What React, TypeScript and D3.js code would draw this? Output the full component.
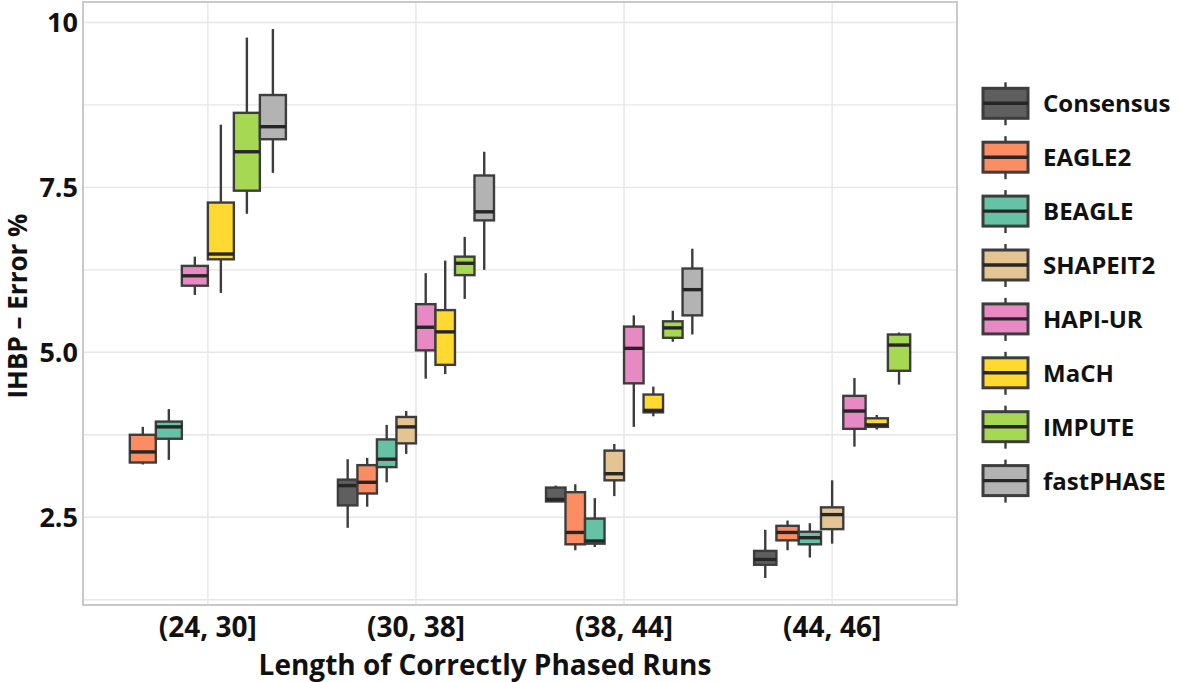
import React from 'react';
import * as d3 from 'd3';

const categories = ['(24, 30]', '(30, 38]', '(38, 44]', '(44, 46]'];
const seriesNames = ['Consensus', 'EAGLE2', 'BEAGLE', 'SHAPEIT2', 'HAPI-UR', 'MaCH', 'IMPUTE', 'fastPHASE'];
const seriesColors = ['#5f5f5f', '#fc8d62', '#66c2a5', '#e5c494', '#e78ac3', '#ffd92f', '#a6d854', '#b3b3b3'];

// per category: [lower whisker, Q1, median, Q3, upper whisker]
type Stat = number[] | null;
const consensus: Stat[] = [null, [2.34, 2.68, 2.98, 3.07, 3.38], [2.73, 2.74, 2.77, 2.95, 2.98], [1.58, 1.78, 1.86, 1.99, 2.31]];
const eagle2: Stat[] = [[3.30, 3.33, 3.49, 3.75, 3.87], [2.66, 2.86, 3.03, 3.29, 3.40], [2.00, 2.09, 2.27, 2.88, 3.00], [2.00, 2.15, 2.27, 2.37, 2.45]];
const beagle: Stat[] = [[3.37, 3.69, 3.87, 3.95, 4.14], [3.03, 3.26, 3.38, 3.68, 3.90], [2.05, 2.10, 2.14, 2.48, 2.79], [1.89, 2.09, 2.19, 2.28, 2.41]];
const shapeit2: Stat[] = [null, [3.46, 3.62, 3.87, 4.02, 4.11], [2.82, 3.06, 3.16, 3.51, 3.61], [2.10, 2.32, 2.54, 2.65, 3.06]];
const hapiur: Stat[] = [[5.87, 6.01, 6.16, 6.31, 6.45], [4.60, 5.03, 5.38, 5.73, 6.20], [3.87, 4.53, 5.06, 5.39, 5.56], [3.57, 3.84, 4.11, 4.34, 4.61]];
const mach: Stat[] = [[5.90, 6.41, 6.49, 7.27, 8.45], [4.67, 4.81, 5.31, 5.64, 6.39], [4.03, 4.09, 4.12, 4.36, 4.48], [3.83, 3.87, 3.90, 4.00, 4.05]];
const impute: Stat[] = [[7.10, 7.45, 8.04, 8.63, 9.77], [5.81, 6.17, 6.35, 6.45, 6.75], [5.16, 5.22, 5.37, 5.47, 5.63], [4.51, 4.72, 5.11, 5.27, 5.30]];
const fastphase: Stat[] = [[7.72, 8.23, 8.42, 8.90, 9.90], [6.25, 7.00, 7.13, 7.68, 8.04], [5.27, 5.56, 5.95, 6.27, 6.57], null];
const seriesStats: Stat[][] = [consensus, eagle2, beagle, shapeit2, hapiur, mach, impute, fastphase];

const yMajorTicks = [2.5, 5.0, 7.5, 10];
const yTickLabels = ['2.5', '5.0', '7.5', '10'];
const yMinorTicks = [1.25, 3.75, 6.25, 8.75];
const yDomain = [1.17, 10.31];

const W = 1180;
const H = 682;
const panel = { left: 83, right: 957, top: 2, bottom: 605 };
const FONT = '"Open Sans", Lato, sans-serif';
const STROKE = '#3d3d3d';
const TEXT = '#111';

export default function App() {
  const x = d3.scalePoint<string>().domain(categories).range([panel.left, panel.right]).padding(0.6);
  const y = d3.scaleLinear().domain(yDomain).range([panel.bottom, panel.top]);
  const dodge = x.step() * 0.75;

  const boxes: React.ReactNode[] = [];
  categories.forEach((cat, ci) => {
    const present = seriesNames.map((_, si) => si).filter((si) => seriesStats[si][ci]);
    const bw = dodge / present.length;
    const start = (x(cat) as number) - dodge / 2;
    present.forEach((si, k) => {
      const s = seriesStats[si][ci] as number[];
      const x0 = start + k * bw;
      const cx = x0 + bw / 2;
      boxes.push(
        <g key={`${ci}-${si}`}>
          <line x1={cx} x2={cx} y1={y(s[4])} y2={y(s[3])} stroke={STROKE} strokeWidth={2.4} />
          <line x1={cx} x2={cx} y1={y(s[1])} y2={y(s[0])} stroke={STROKE} strokeWidth={2.4} />
          <rect x={x0} y={y(s[3])} width={bw} height={y(s[1]) - y(s[3])} fill={seriesColors[si]} stroke={STROKE} strokeWidth={2.4} />
          <line x1={x0} x2={x0 + bw} y1={y(s[2])} y2={y(s[2])} stroke="#262626" strokeWidth={3.4} />
        </g>
      );
    });
  });

  const legendY0 = 103.3;
  const legendStep = 53.9;

  return (
    <svg width={W} height={H} style={{ position: 'absolute', left: 0, top: 0, background: '#fff' }}>
      <rect x={0} y={0} width={W} height={H} fill="#fff" />
      {[...yMinorTicks, ...yMajorTicks].map((t) => (
        <line key={`gy${t}`} x1={panel.left} x2={panel.right} y1={y(t)} y2={y(t)} stroke="#e6e6e6" strokeWidth={1.4} />
      ))}
      {categories.map((c) => (
        <line key={`gx${c}`} x1={x(c)} x2={x(c)} y1={panel.top} y2={panel.bottom} stroke="#e6e6e6" strokeWidth={1.4} />
      ))}
      <rect x={panel.left} y={panel.top} width={panel.right - panel.left} height={panel.bottom - panel.top} fill="none" stroke="#c4c4c4" strokeWidth={1.8} />
      {boxes}
      {yMajorTicks.map((t, i) => (
        <text key={`yt${t}`} x={78} y={y(t) + 10} textAnchor="end" fontFamily={FONT} fontWeight={700} fontSize={27} fill={TEXT}>
          {yTickLabels[i]}
        </text>
      ))}
      {categories.map((c) => (
        <text key={`xt${c}`} x={x(c)} y={637} textAnchor="middle" fontFamily={FONT} fontWeight={700} fontSize={28} fill={TEXT}>
          {c}
        </text>
      ))}
      <text x={485} y={675} textAnchor="middle" fontFamily={FONT} fontWeight={700} fontSize={28} fill={TEXT}>
        Length of Correctly Phased Runs
      </text>
      <text transform={`translate(27, 306) rotate(-90)`} textAnchor="middle" fontFamily={FONT} fontWeight={700} fontSize={26} fill={TEXT}>
        IHBP – Error %
      </text>
      {seriesNames.map((n, i) => {
        const cy = legendY0 + i * legendStep;
        const kx = 983;
        const kw = 45;
        const kh = 30;
        return (
          <g key={`lg${n}`}>
            <line x1={kx + kw / 2} x2={kx + kw / 2} y1={cy - 21} y2={cy + 22} stroke={STROKE} strokeWidth={2.4} />
            <rect x={kx} y={cy - kh / 2} width={kw} height={kh} fill={seriesColors[i]} stroke={STROKE} strokeWidth={3} />
            <line x1={kx} x2={kx + kw} y1={cy} y2={cy} stroke="#262626" strokeWidth={3.4} />
            <text x={1043} y={cy + 9} fontFamily={FONT} fontWeight={700} fontSize={24} fill={TEXT}>
              {n}
            </text>
          </g>
        );
      })}
    </svg>
  );
}
